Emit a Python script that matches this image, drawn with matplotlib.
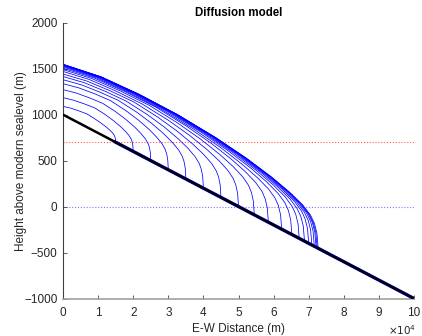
import matplotlib
matplotlib.use("Agg")
import matplotlib.pyplot as plt
from matplotlib.ticker import FuncFormatter

plt.rcParams['font.family'] = ['Liberation Sans', 'DejaVu Sans']

# Bedrock line (m)
bed_x = [0, 100000]
bed_h = [1000, -1000]

# Reference levels (m)
red_level = 700
blue_level = 0

# Surface profiles, x in km, height in m
x01 = [0, 2.25, 4.5, 6.75, 9, 10.8, 12.3, 13.35, 14.1, 14.55, 14.78, 14.93, 15]
h01 = [1090, 1070, 1041, 1009, 956, 909, 866, 831, 802, 779, 760, 737, 700]
x02 = [0, 3, 6, 9, 12, 14.4, 16.4, 17.8, 18.8, 19.4, 19.7, 19.9, 20]
h02 = [1185, 1157, 1118, 1074, 1002, 934, 870, 817, 773, 735, 704, 664, 600]
x03 = [0, 3.75, 7.5, 11.25, 15, 18, 20.5, 22.25, 23.5, 24.25, 24.63, 24.88, 25]
h03 = [1272, 1235, 1183, 1124, 1032, 945, 862, 793, 735, 684, 642, 588, 500]
x04 = [0, 4.5, 9, 13.5, 18, 21.6, 24.6, 26.7, 28.2, 29.1, 29.55, 29.85, 30]
h04 = [1337, 1291, 1227, 1153, 1041, 937, 837, 754, 684, 623, 571, 505, 400]
x05 = [0, 5.25, 10.5, 15.75, 21, 25.2, 28.7, 31.15, 32.9, 33.95, 34.48, 34.83, 35]
h05 = [1380, 1324, 1245, 1155, 1027, 907, 792, 698, 618, 549, 491, 417, 300]
x06 = [0, 6, 12, 18, 24, 28.8, 32.8, 35.6, 37.6, 38.8, 39.4, 39.8, 40]
h06 = [1415, 1348, 1254, 1147, 1001, 867, 738, 634, 545, 470, 407, 327, 200]
x07 = [0, 6.75, 13.5, 20.25, 27, 32.4, 36.9, 40.05, 42.3, 43.65, 44.33, 44.78, 45]
h07 = [1442, 1366, 1258, 1136, 973, 824, 682, 568, 471, 389, 321, 236, 100]
x08 = [0, 7.5, 15, 22.5, 30, 36, 41, 44.5, 47, 48.5, 49.25, 49.75, 50]
h08 = [1470, 1382, 1258, 1117, 939, 776, 621, 497, 392, 305, 233, 143, 0]
x09 = [0, 8.18, 16.35, 24.53, 32.7, 39.24, 44.69, 48.51, 51.23, 52.87, 53.68, 54.23, 54.5]
h09 = [1490, 1393, 1257, 1102, 908, 732, 566, 434, 322, 230, 153, 59, -90]
x10 = [0, 8.78, 17.55, 26.33, 35.1, 42.12, 47.97, 52.07, 54.99, 56.75, 57.62, 58.21, 58.5]
h10 = [1505, 1400, 1252, 1084, 877, 691, 515, 375, 257, 161, 82, -16, -170]
x11 = [0, 9.35, 18.69, 28.04, 37.38, 44.86, 51.09, 55.45, 58.56, 60.43, 61.37, 61.99, 62.3]
h11 = [1518, 1403, 1241, 1057, 839, 643, 458, 312, 191, 91, 10, -90, -246]
x12 = [0, 9.78, 19.56, 29.34, 39.12, 46.94, 53.46, 58.03, 61.29, 63.24, 64.22, 64.87, 65.2]
h12 = [1527, 1406, 1236, 1042, 815, 610, 420, 268, 142, 40, -43, -145, -304]
x13 = [0, 10.1, 20.19, 30.29, 40.38, 48.46, 55.19, 59.9, 63.26, 65.28, 66.29, 66.96, 67.3]
h13 = [1533, 1407, 1231, 1030, 795, 586, 390, 235, 107, 2, -82, -185, -346]
x14 = [0, 10.32, 20.64, 30.96, 41.28, 49.54, 56.42, 61.23, 64.67, 66.74, 67.77, 68.46, 68.8]
h14 = [1538, 1409, 1229, 1023, 783, 570, 371, 212, 83, -24, -109, -213, -376]
x15 = [0, 10.5, 21, 31.5, 42, 50.4, 57.4, 62.3, 65.8, 67.9, 68.95, 69.65, 70]
h15 = [1541, 1410, 1225, 1015, 773, 556, 354, 194, 62, -45, -131, -237, -400]
x16 = [0, 10.64, 21.27, 31.91, 42.54, 51.05, 58.14, 63.1, 66.65, 68.77, 69.84, 70.55, 70.9]
h16 = [1543, 1410, 1223, 1009, 764, 545, 341, 179, 46, -62, -148, -254, -418]
x17 = [0, 10.74, 21.48, 32.22, 42.96, 51.55, 58.71, 63.72, 67.3, 69.45, 70.53, 71.24, 71.6]
h17 = [1545, 1410, 1222, 1006, 759, 537, 332, 169, 35, -74, -161, -267, -432]
x18 = [0, 10.82, 21.63, 32.45, 43.26, 51.91, 59.12, 64.17, 67.77, 69.94, 71.02, 71.74, 72.1]
h18 = [1546, 1410, 1220, 1002, 754, 531, 325, 161, 26, -83, -170, -277, -442]
x19 = [0, 10.86, 21.72, 32.58, 43.44, 52.13, 59.37, 64.44, 68.06, 70.23, 71.31, 72.04, 72.4]
h19 = [1547, 1410, 1219, 1000, 750, 527, 320, 156, 21, -89, -176, -283, -448]
x20 = [0, 10.91, 21.81, 32.72, 43.62, 52.34, 59.61, 64.7, 68.34, 70.52, 71.61, 72.34, 72.7]
h20 = [1548, 1411, 1219, 999, 748, 524, 316, 152, 16, -93, -181, -289, -454]

xs = [x01, x02, x03, x04, x05, x06, x07, x08, x09, x10,
      x11, x12, x13, x14, x15, x16, x17, x18, x19, x20]
hs = [h01, h02, h03, h04, h05, h06, h07, h08, h09, h10,
      h11, h12, h13, h14, h15, h16, h17, h18, h19, h20]

fig = plt.figure(figsize=(4.22, 3.36), dpi=100)
ax = fig.add_axes([63/422, 1 - 298.5/336, (414 - 63)/422, (298.5 - 22.7)/336])

ax.plot([0, 100000], [red_level, red_level], color='#ff5a5a', lw=0.8,
        linestyle=(0, (1, 1.6)), zorder=1)
ax.plot([0, 100000], [blue_level, blue_level], color='#7a7aff', lw=0.8,
        linestyle=(0, (1, 1.6)), zorder=1)

for xk, h in zip(xs, hs):
    ax.plot([v * 1000 for v in xk], h, color='#0000ff', lw=0.55, zorder=2,
            solid_joinstyle='round')

# blue underlay along bedrock beyond first front
ax.plot([x01[-1] * 1000, bed_x[1]], [h01[-1], bed_h[1]], color='#0000ff', lw=2.4, zorder=3)
ax.plot(bed_x, bed_h, color='black', lw=1.8, zorder=4, solid_capstyle='butt')

ax.set_xlim(0, 100000)
ax.set_ylim(-1000, 2000)
ax.set_xticks([i * 10000 for i in range(11)])
ax.xaxis.set_major_formatter(FuncFormatter(lambda v, p: f"{v/1e4:.0f}"))
ax.set_yticks([-1000, -500, 0, 500, 1000, 1500, 2000])

for s in ['top', 'right']:
    ax.spines[s].set_visible(False)
ax.spines['left'].set_color('#404040')
ax.spines['left'].set_linewidth(0.8)
ax.spines['bottom'].set_color('#a0a0a0')
ax.spines['bottom'].set_linewidth(1.2)
ax.tick_params(direction='in', length=3, width=0.6, colors='#404040',
               labelsize=8.5, labelcolor='#262626')
ax.tick_params(axis='x', pad=6)
ax.tick_params(axis='y', pad=4)

ax.set_title('Diffusion model', fontsize=8.3, fontweight='bold', pad=5)
ax.set_xlabel('E-W Distance (m)', fontsize=8.5, color='#262626', labelpad=3)
ax.set_ylabel('Height above modern sealevel (m)', fontsize=8.5, color='#262626', labelpad=-2)
fig.text(416/422, 1 - 330/336, r'$\times10^4$', fontsize=7.5, color='#262626',
         ha='right', va='center')

fig.savefig('out.png', dpi=100)
